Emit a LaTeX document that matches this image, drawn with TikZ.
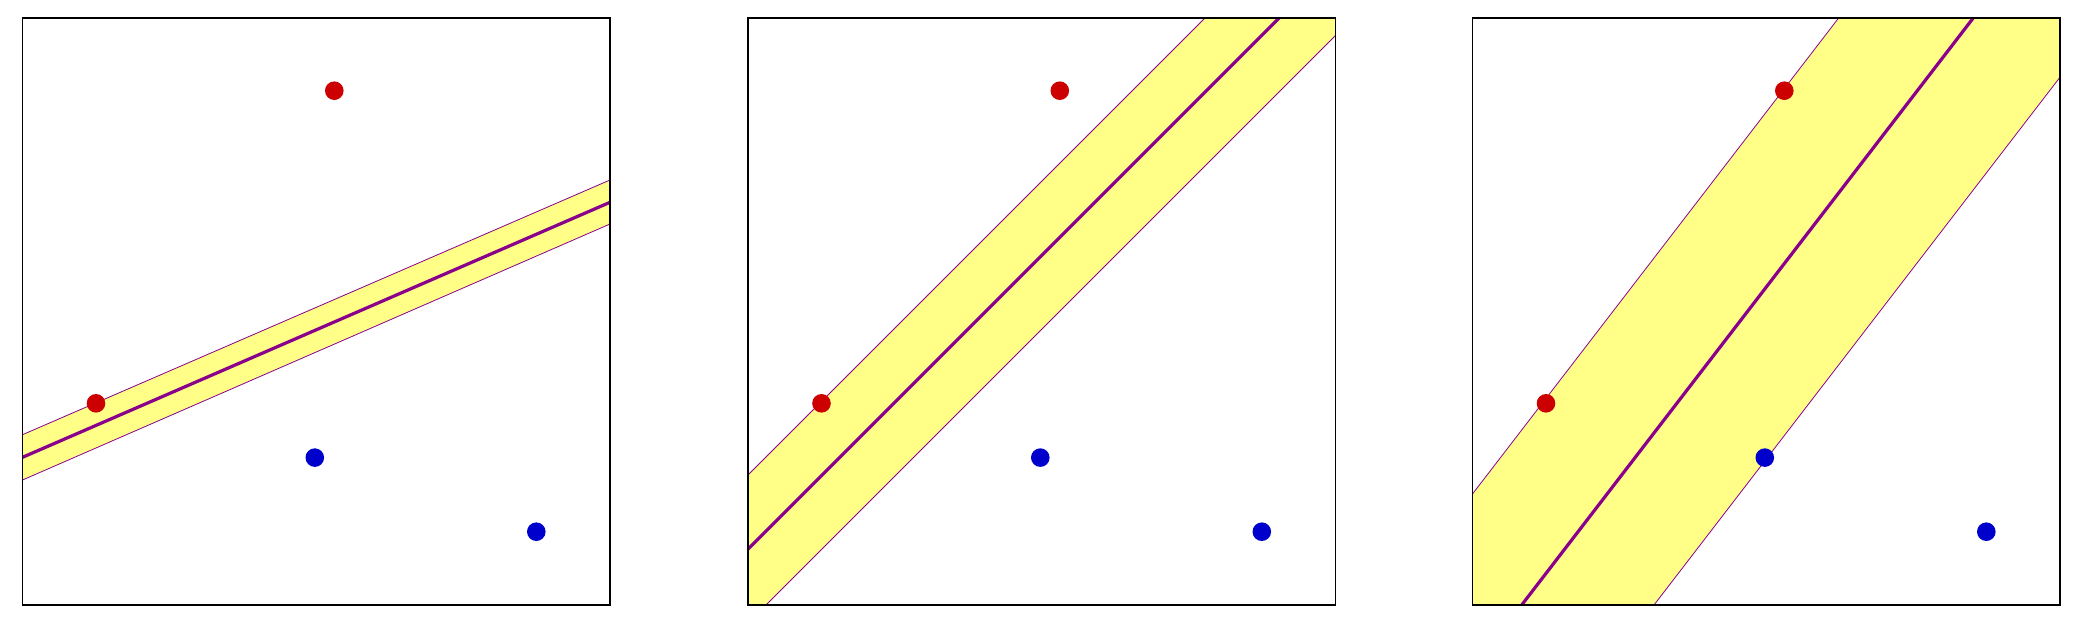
\documentclass[tikz,border=0pt]{standalone}
\usetikzlibrary{calc}
\definecolor{bandfill}{HTML}{FFFF88}
\definecolor{sepline}{HTML}{8B008B}
\definecolor{redpt}{HTML}{CC0000}
\definecolor{bluept}{HTML}{0000CC}
\tikzset{
  frame/.style={draw=black,line width=0.85pt},
  band/.style={fill=bandfill,draw=none},
  marginline/.style={draw=sepline,line width=0.4pt},
  centerline/.style={draw=sepline,line width=1.6pt},
  reddot/.style={circle,fill=redpt,draw=none,minimum size=9.3pt,inner sep=0pt},
  bluedot/.style={circle,fill=bluept,draw=none,minimum size=9.3pt,inner sep=0pt},
}
\begin{document}
\begin{tikzpicture}[x=0.5pt,y=-0.5pt]
\useasboundingbox (0,0) rectangle (2074,622);
% ---------- panel 1 ----------
\begin{scope}
  \clip (22.5,18) rectangle (610,605);
  \fill[band] (22.5,434.7) -- (610,180) -- (610,224) -- (22.5,480) -- cycle;
  \draw[marginline] (22.5,434.7) -- (610,180);
  \draw[marginline] (22.5,480) -- (610,224);
  \draw[centerline] (22.5,457.3) -- (610,202.3);
\end{scope}
% ---------- panel 2 ----------
\begin{scope}
  \clip (748,18) rectangle (1335.5,605);
  \fill[band] (600,623) -- (1400,-177) -- (1400,-29) -- (600,771) -- cycle;
  \draw[marginline] (600,623) -- (1400,-177);
  \draw[marginline] (600,771) -- (1400,-29);
  \draw[centerline] (600,697) -- (1400,-103);
\end{scope}
% ---------- panel 3 ----------
\begin{scope}
  \clip (1472.5,18) rectangle (2060,605);
  \fill[band] (1314.0,700) -- (1929.4,-100) -- (2196.3,-100) -- (1580.9,700) -- cycle;
  \draw[marginline] (1314.0,700) -- (1929.4,-100);
  \draw[marginline] (1580.9,700) -- (2196.3,-100);
  \draw[centerline] (1448.6,700) -- (2064.0,-100);
\end{scope}
% ---------- points and frames ----------
\foreach \p/\o in {a/0,b/725.5,c/1450}{
  \node[reddot] (r1\p) at (96+\o,403.3) {};
  \node[reddot] (r2\p) at (334.3+\o,90.7) {};
  \node[bluedot] (b1\p) at (314.8+\o,457.6) {};
  \node[bluedot] (b2\p) at (536.3+\o,531.7) {};
  \draw[frame] (22.5+\o,18) rectangle (610+\o,605);
}
\end{tikzpicture}
\end{document}
